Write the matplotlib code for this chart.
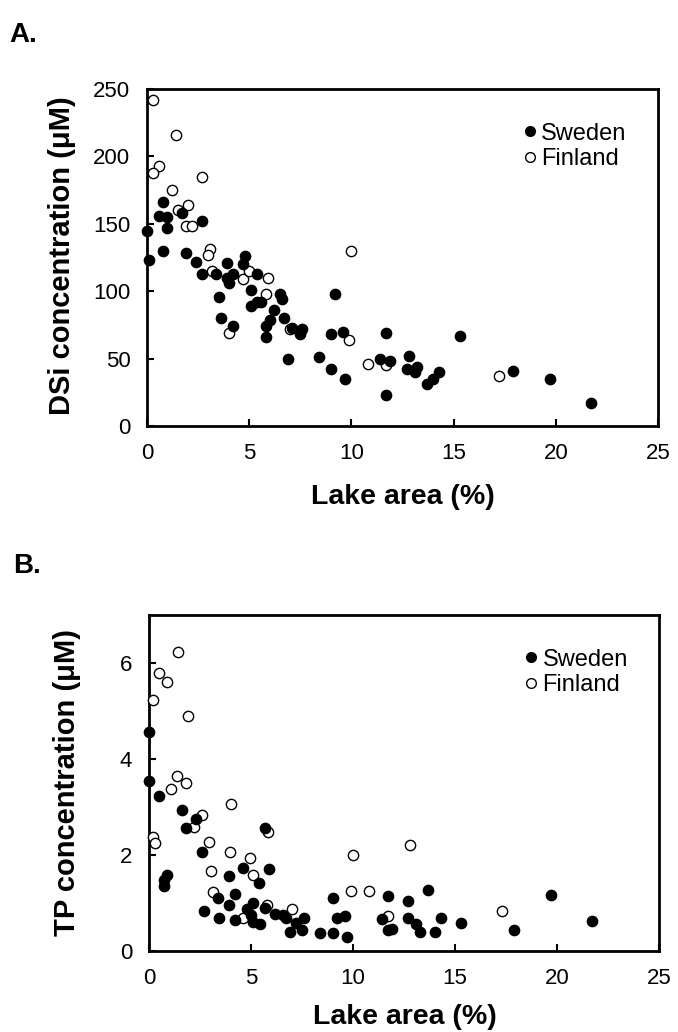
import matplotlib
matplotlib.use("Agg")
import matplotlib.pyplot as plt
from matplotlib.lines import Line2D

plt.rcParams["font.family"] = ["Liberation Sans", "DejaVu Sans"]

# Panel A - dissolved silicate vs lake area
dsi_sweden_x = [0.02, 0.11, 0.8, 0.6, 1.0, 1.0, 1.7, 2.7, 0.8, 1.9, 2.4, 2.7, 3.4, 3.9,
                3.9, 4.0, 4.2, 4.8, 4.7, 5.4, 5.1, 3.5, 3.6, 4.2, 5.1, 5.4, 5.6, 6.5,
                6.6, 6.2, 6.0, 5.8, 5.8, 6.7, 7.1, 7.6, 7.5, 6.9, 8.4, 9.0, 9.2, 9.6,
                9.0, 9.7, 11.7, 11.4, 11.9, 11.7, 12.8, 12.7, 13.2, 13.1, 13.7, 14.0,
                14.3, 15.3, 17.9, 19.7, 21.7]
dsi_sweden_y = [145, 123, 166, 156, 155, 147, 158, 152, 130, 128, 122, 113, 113, 121,
                110, 106, 113, 126, 120, 113, 101, 96, 80, 74, 89, 92, 92, 98,
                94, 86, 79, 74, 66, 80, 73, 72, 68, 50, 51, 68, 98, 70,
                42, 35, 69, 50, 48, 23, 52, 42, 44, 40, 31, 35,
                40, 67, 41, 35, 17]
dsi_finland_x = [0.28, 1.4, 0.6, 0.3, 2.7, 1.2, 2.0, 1.5, 1.9, 2.2, 3.1, 3.0, 3.2, 4.7,
                 5.0, 5.9, 5.8, 4.0, 10.0, 7.0, 9.9, 10.8, 11.7, 17.2]
dsi_finland_y = [242, 216, 193, 188, 185, 175, 164, 160, 148, 148, 131, 127, 115, 109,
                 115, 110, 98, 69, 130, 72, 64, 46, 45, 37]

# Panel B - total phosphorus vs lake area
tp_sweden_x = [0.0, 0.0, 0.5, 1.6, 2.3, 1.8, 2.6, 5.7, 5.9, 4.6, 3.9, 5.4, 0.9, 0.75,
               0.75, 3.4, 4.2, 3.9, 2.7, 3.45, 4.2, 5.1, 4.8, 5.0, 5.1, 5.45, 5.7, 6.2,
               6.55, 6.7, 7.2, 6.9, 7.6, 7.5, 8.4, 9.0, 9.0, 9.2, 9.6, 9.7, 11.7, 11.4,
               11.7, 11.9, 12.7, 12.7, 13.1, 13.3, 13.7, 14.0, 14.3, 15.3, 17.9, 19.7,
               21.7]
tp_sweden_y = [4.57, 3.55, 3.22, 2.94, 2.76, 2.57, 2.06, 2.56, 1.71, 1.72, 1.56, 1.42,
               1.58, 1.48, 1.35, 1.10, 1.19, 0.96, 0.84, 0.68, 0.65, 1.01, 0.87, 0.75,
               0.61, 0.56, 0.89, 0.78, 0.75, 0.68, 0.58, 0.40, 0.68, 0.44, 0.37, 0.38,
               1.10, 0.68, 0.72, 0.30, 1.15, 0.66, 0.44, 0.45, 1.04, 0.68, 0.56, 0.40,
               1.28, 0.40, 0.69, 0.58, 0.44, 1.17, 0.62]
tp_finland_x = [1.4, 0.5, 0.9, 0.2, 1.9, 1.35, 1.8, 1.1, 4.0, 2.6, 2.2, 5.85, 0.2, 0.3,
                2.95, 3.95, 4.95, 3.05, 5.1, 10.0, 3.15, 9.9, 10.8, 5.8, 7.0, 4.6, 11.7,
                12.8, 17.3]
tp_finland_y = [6.22, 5.8, 5.61, 5.22, 4.9, 3.65, 3.51, 3.38, 3.06, 2.83, 2.58, 2.47,
                2.38, 2.24, 2.28, 2.07, 1.93, 1.67, 1.58, 2.0, 1.22, 1.24, 1.24, 0.96,
                0.87, 0.68, 0.73, 2.21, 0.83]

x_ticks = [0, 5, 10, 15, 20, 25]
dsi_ticks = [0, 50, 100, 150, 200, 250]
tp_ticks = [0, 2, 4, 6]

W, H = 678, 1032
fig = plt.figure(figsize=(W / 100, H / 100), dpi=100)


def px_axes(left, top, right, bottom):
    # axes rectangle given in pixel coords of the final image
    return fig.add_axes([left / W, 1 - bottom / H, (right - left) / W, (bottom - top) / H])


def style_panel(ax, xs_sw, ys_sw, xs_fi, ys_fi, ylim, yticks):
    ax.scatter(xs_fi, ys_fi, s=55, facecolor="white", edgecolor="black",
               linewidth=1.0, clip_on=False, zorder=3)
    ax.scatter(xs_sw, ys_sw, s=55, facecolor="black", edgecolor="black",
               linewidth=1.0, clip_on=False, zorder=4)
    ax.set_xlim(0, 25)
    ax.set_ylim(*ylim)
    ax.set_xticks(x_ticks)
    ax.set_yticks(yticks)
    for sp in ax.spines.values():
        sp.set_linewidth(2.0)
    ax.tick_params(direction="in", length=5, width=1.5, labelsize=16)
    ax.tick_params(axis="y", pad=12)
    ax.tick_params(axis="x", pad=12)

    handles = [
        Line2D([], [], ls="", marker="o", ms=7, mfc="black", mec="black", label="Sweden"),
        Line2D([], [], ls="", marker="o", ms=7, mfc="white", mec="black", mew=1.0, label="Finland"),
    ]
    ax.legend(handles=handles, loc="upper left", bbox_to_anchor=(0.737, 0.9),
              frameon=False, fontsize=17, handlelength=0.5, handletextpad=0.25,
              labelspacing=0.15, borderpad=0, borderaxespad=0)


ax_a = px_axes(147, 89, 658, 426)
style_panel(ax_a, dsi_sweden_x, dsi_sweden_y, dsi_finland_x, dsi_finland_y, (0, 250), dsi_ticks)

ax_b = px_axes(149, 615, 659, 951)
style_panel(ax_b, tp_sweden_x, tp_sweden_y, tp_finland_x, tp_finland_y, (0, 7), tp_ticks)

# axis titles and panel letters placed in pixel positions
lbl = dict(fontsize=20.5, fontweight="bold", ha="center", va="center")
fig.text(62 / W, 1 - 256 / H, "DSi concentration (\u03bcM)", rotation=90,
         **{**lbl, "fontsize": 21})
fig.text(403 / W, 1 - 497 / H, "Lake area (%)", **lbl)
fig.text(67 / W, 1 - 782 / H, "TP concentration (\u03bcM)", rotation=90,
         **{**lbl, "fontsize": 21})
fig.text(405 / W, 1 - 1017 / H, "Lake area (%)", **lbl)

fig.text(9 / W, 1 - 42 / H, "A.", fontsize=20, fontweight="bold", ha="left", va="baseline")
fig.text(13 / W, 1 - 573 / H, "B.", fontsize=20, fontweight="bold", ha="left", va="baseline")

fig.savefig("out.png", dpi=100)
